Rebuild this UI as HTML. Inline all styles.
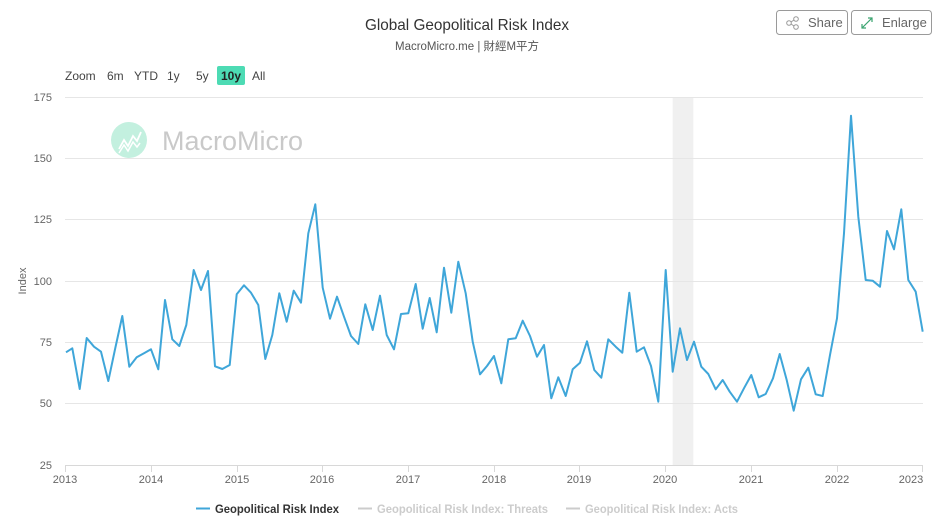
<!DOCTYPE html>
<html><head><meta charset="utf-8"><style>
html,body{margin:0;padding:0;background:#fff;}
svg{display:block;font-family:"Liberation Sans","Noto Sans CJK TC",sans-serif;}
</style></head><body>
<svg width="940" height="525" viewBox="0 0 940 525" xmlns="http://www.w3.org/2000/svg">
<rect width="940" height="525" fill="#fff"/>
<!-- title -->
<text x="467" y="30" text-anchor="middle" font-size="16" fill="#333" textLength="204" lengthAdjust="spacingAndGlyphs">Global Geopolitical Risk Index</text>
<text x="467" y="50" text-anchor="middle" font-size="11.5" fill="#555" textLength="144" lengthAdjust="spacingAndGlyphs">MacroMicro.me | 財經M平方</text>
<!-- buttons -->
<rect x="776.5" y="10.5" width="71" height="24" rx="3" fill="#fff" stroke="#9a9a9a"/>
<g stroke="#999" stroke-width="1" fill="none">
<circle cx="789" cy="23" r="2.3"/><circle cx="796" cy="19" r="2.3"/><circle cx="796" cy="27" r="2.3"/>
<line x1="791" y1="22" x2="794" y2="20"/><line x1="791" y1="24" x2="794" y2="26"/>
</g>
<text x="808" y="27" font-size="13" fill="#666">Share</text>
<rect x="851.5" y="10.5" width="80" height="24" rx="3" fill="#fff" stroke="#9a9a9a"/>
<g stroke="#3aa36f" stroke-width="1.2" fill="none">
<line x1="862" y1="28" x2="872" y2="18"/>
<polyline points="868,18 872,18 872,22"/>
<polyline points="862,24 862,28 866,28"/>
</g>
<text x="882" y="27" font-size="13" fill="#666">Enlarge</text>
<!-- zoom buttons -->
<g font-size="12" fill="#444">
<text x="65" y="80">Zoom</text>
<text x="107" y="80">6m</text>
<text x="134" y="80">YTD</text>
<text x="167" y="80">1y</text>
<text x="196" y="80">5y</text>
<rect x="217" y="66" width="28" height="19" rx="2" fill="#4ddbb4"/>
<text x="231" y="80" text-anchor="middle" font-weight="bold" fill="#222">10y</text>
<text x="252" y="80">All</text>
</g>
<!-- watermark -->
<circle cx="129" cy="140" r="18" fill="#c3f0df"/>
<polyline points="119,149 124,140 128,146 133,136 137,141 141,132" fill="none" stroke="#fff" stroke-width="1.8"/>
<polyline points="119,153 124,145 128,151 133,142 137,147 140,143" fill="none" stroke="#fff" stroke-width="1.5"/>
<text x="162" y="150" font-size="27" fill="#c9c9c9" textLength="141" lengthAdjust="spacingAndGlyphs">MacroMicro</text>
<!-- plot band -->
<rect x="672.7" y="97" width="20.6" height="368" fill="#f0f0f0"/>
<!-- grid -->
<g stroke="#e6e6e6" stroke-width="1">
<line x1="65" y1="97.5" x2="923" y2="97.5"/>
<line x1="65" y1="158.5" x2="923" y2="158.5"/>
<line x1="65" y1="219.5" x2="923" y2="219.5"/>
<line x1="65" y1="281.5" x2="923" y2="281.5"/>
<line x1="65" y1="342.5" x2="923" y2="342.5"/>
<line x1="65" y1="403.5" x2="923" y2="403.5"/>
</g>
<line x1="65" y1="465.5" x2="923" y2="465.5" stroke="#d8d8d8"/>
<g stroke="#d8d8d8">
<line x1="65.5" y1="465" x2="65.5" y2="472"/>
<line x1="151.5" y1="465" x2="151.5" y2="472"/>
<line x1="237.5" y1="465" x2="237.5" y2="472"/>
<line x1="322.5" y1="465" x2="322.5" y2="472"/>
<line x1="408.5" y1="465" x2="408.5" y2="472"/>
<line x1="494.5" y1="465" x2="494.5" y2="472"/>
<line x1="579.5" y1="465" x2="579.5" y2="472"/>
<line x1="665.5" y1="465" x2="665.5" y2="472"/>
<line x1="751.5" y1="465" x2="751.5" y2="472"/>
<line x1="837.5" y1="465" x2="837.5" y2="472"/>
<line x1="922.5" y1="465" x2="922.5" y2="472"/>
</g>
<!-- y labels -->
<g font-size="11" fill="#666" text-anchor="end">
<text x="52" y="101">175</text>
<text x="52" y="162">150</text>
<text x="52" y="223">125</text>
<text x="52" y="285">100</text>
<text x="52" y="346">75</text>
<text x="52" y="407">50</text>
<text x="52" y="469">25</text>
</g>
<text transform="translate(26,281) rotate(-90)" text-anchor="middle" font-size="11" fill="#666">Index</text>
<!-- x labels -->
<g font-size="11" fill="#666" text-anchor="middle">
<text x="65" y="483">2013</text>
<text x="151" y="483">2014</text>
<text x="237" y="483">2015</text>
<text x="322" y="483">2016</text>
<text x="408" y="483">2017</text>
<text x="494" y="483">2018</text>
<text x="579" y="483">2019</text>
<text x="665" y="483">2020</text>
<text x="751" y="483">2021</text>
<text x="837" y="483">2022</text>
<text x="911" y="483">2023</text>
</g>
<!-- series -->
<polyline fill="none" stroke="#3fa6d9" stroke-width="2" stroke-linejoin="round" points="
66,352.3 72.3,348.3 79.7,389 86.7,338 94,346.7 101,351.7 108.3,381 115.3,348 122.3,316 129.3,366.7
136.7,357.3 144,353.3 151,349.3 158.3,369.3 165,300 172.3,339.3 179.3,346 186.3,325 193.7,270 201,290
208,271 215,366.3 222.3,369 229.7,365 236.7,294.3 244,285.3 251,292.7 258.3,305 265.3,359 272.3,335
279.3,293.3 286.7,321.7 293.7,290.7 301,302.7 308.3,233.3 315.3,204.3 322.7,287.7 330,318.7 337,296.7 344,316.7
351,336 358.3,344 365.3,304.3 372.7,330 380,295.7 386.7,335 394,349.3 401,314 408.3,313.3 415.7,284
422.7,328.7 429.7,298 436.7,332.3 444,267.7 451.3,312.7 458.3,261.7 465.7,293.3 472.7,341.7 480,374.3 487,366
494,356 501.3,383.3 508.3,339.3 515.7,338.3 522.7,320.7 530,336 537,356.7 544,345 551.3,398.3 558.3,377.3
565.7,396 572.7,369.3 580,362.7 587,341.3 594.3,370 601.3,377.7 608.3,339.3 615.7,346.7 622.3,352.7 629.3,292.7
636.7,351.7 644,347.3 651,366 658.3,401.7 665.7,270 672.7,371.7 680,328.3 687,360 694,341.7 701.3,366.7
708.3,374 715.7,389.3 722.7,380 729.7,391.7 737,401.7 744.3,387.7 751.3,375 758.7,397.3 765.7,394 773,378.3
779.7,354 786.7,380 793.7,410.7 801,379.3 808.3,367.7 815.7,394.3 822.7,396 830,355 837,318.3 844,233.3
851,115.7 858.3,216.7 865.7,280 872.7,280.7 880,286.7 887,231 894,249.3 901.3,209.3 908.3,280 915.7,291.7 922.7,331.7"/>
<!-- legend -->
<line x1="196" y1="508.5" x2="210" y2="508.5" stroke="#3fa6d9" stroke-width="2"/>
<text x="215" y="513" font-size="12" font-weight="bold" fill="#333" textLength="124" lengthAdjust="spacingAndGlyphs">Geopolitical Risk Index</text>
<line x1="358" y1="508.5" x2="372" y2="508.5" stroke="#ccc" stroke-width="2"/>
<text x="377" y="513" font-size="12" font-weight="bold" fill="#ccc" textLength="171" lengthAdjust="spacingAndGlyphs">Geopolitical Risk Index: Threats</text>
<line x1="566" y1="508.5" x2="580" y2="508.5" stroke="#ccc" stroke-width="2"/>
<text x="585" y="513" font-size="12" font-weight="bold" fill="#ccc" textLength="153" lengthAdjust="spacingAndGlyphs">Geopolitical Risk Index: Acts</text>
</svg>
</body></html>
